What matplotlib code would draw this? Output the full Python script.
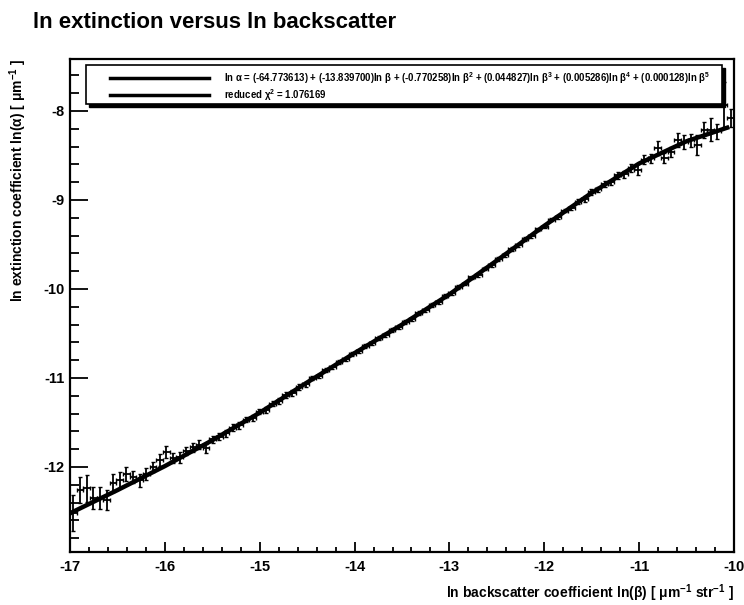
import matplotlib
matplotlib.use('Agg')
import matplotlib.pyplot as plt
from matplotlib.patches import Rectangle
from matplotlib.lines import Line2D
from matplotlib.ticker import MultipleLocator

plt.rcParams['font.family'] = ['Liberation Sans', 'DejaVu Sans']
plt.rcParams['axes.unicode_minus'] = False
plt.rcParams['mathtext.fontset'] = 'custom'
plt.rcParams['mathtext.rm'] = 'Liberation Sans'
plt.rcParams['mathtext.it'] = 'Liberation Sans:italic'
plt.rcParams['mathtext.bf'] = 'Liberation Sans:bold'
plt.rcParams['mathtext.default'] = 'regular'

# binned data: ln(beta) bin centres, ln(alpha) means and errors
ln_beta = [
    -16.965, -16.895, -16.825, -16.755, -16.685, -16.615, -16.545, -16.475, -16.405, -16.335,
    -16.265, -16.195, -16.125, -16.055, -15.985, -15.915, -15.845, -15.775, -15.705, -15.635,
    -15.565, -15.495, -15.425, -15.355, -15.285, -15.215, -15.145, -15.075, -15.005, -14.935,
    -14.865, -14.795, -14.725, -14.655, -14.585, -14.515, -14.445, -14.375, -14.305, -14.235,
    -14.165, -14.095, -14.025, -13.955, -13.885, -13.815, -13.745, -13.675, -13.605, -13.535,
    -13.465, -13.395, -13.325, -13.255, -13.185, -13.115, -13.045, -12.975, -12.905, -12.835,
    -12.765, -12.695, -12.625, -12.555, -12.485, -12.415, -12.345, -12.275, -12.205, -12.135,
    -12.065, -11.995, -11.925, -11.855, -11.785, -11.715, -11.645, -11.575, -11.505, -11.435,
    -11.365, -11.295, -11.225, -11.155, -11.085, -11.015, -10.945, -10.875, -10.805, -10.735,
    -10.665, -10.595, -10.525, -10.455, -10.385, -10.315, -10.245, -10.175, -10.105, -10.035,
]

ln_alpha = [
    -12.52, -12.26, -12.24, -12.35, -12.35, -12.37, -12.18, -12.15, -12.08, -12.11,
    -12.15, -12.08, -12.00, -11.92, -11.83, -11.90, -11.89, -11.82, -11.78, -11.75,
    -11.79, -11.69, -11.66, -11.62, -11.56, -11.53, -11.47, -11.45, -11.38, -11.36,
    -11.29, -11.26, -11.19, -11.17, -11.10, -11.07, -11.00, -10.98, -10.91, -10.88,
    -10.82, -10.79, -10.73, -10.70, -10.64, -10.61, -10.55, -10.52, -10.46, -10.43,
    -10.37, -10.34, -10.27, -10.24, -10.18, -10.15, -10.08, -10.05, -9.98, -9.94,
    -9.87, -9.84, -9.77, -9.73, -9.66, -9.62, -9.55, -9.51, -9.44, -9.41,
    -9.33, -9.30, -9.22, -9.19, -9.12, -9.09, -9.02, -8.99, -8.91, -8.88,
    -8.82, -8.80, -8.72, -8.71, -8.64, -8.66, -8.55, -8.53, -8.42, -8.53,
    -8.46, -8.33, -8.35, -8.33, -8.38, -8.21, -8.21, -8.23, -7.93, -8.08,
]

alpha_err = [
    0.20, 0.15, 0.15, 0.12, 0.12, 0.11, 0.10, 0.09, 0.08, 0.07,
    0.07, 0.07, 0.06, 0.07, 0.07, 0.06, 0.06, 0.05, 0.05, 0.05,
    0.05, 0.04, 0.04, 0.04, 0.04, 0.04, 0.03, 0.03, 0.03, 0.03,
    0.03, 0.03, 0.03, 0.03, 0.03, 0.03, 0.02, 0.02, 0.02, 0.02,
    0.02, 0.02, 0.02, 0.02, 0.02, 0.02, 0.02, 0.02, 0.02, 0.02,
    0.02, 0.02, 0.02, 0.02, 0.02, 0.02, 0.02, 0.02, 0.02, 0.02,
    0.02, 0.02, 0.02, 0.02, 0.02, 0.02, 0.02, 0.02, 0.02, 0.02,
    0.02, 0.02, 0.02, 0.02, 0.02, 0.02, 0.03, 0.03, 0.03, 0.03,
    0.03, 0.03, 0.04, 0.04, 0.04, 0.06, 0.05, 0.05, 0.08, 0.06,
    0.06, 0.08, 0.08, 0.07, 0.11, 0.09, 0.13, 0.08, 0.25, 0.10,
]

# polynomial fit curve
fit_beta = [-17.0, -16.5, -16.0, -15.5, -15.0, -14.5, -14.0, -13.5,
            -13.0, -12.5, -12.0, -11.5, -11.0, -10.5, -10.05]
fit_alpha = [-12.52, -12.26, -11.99, -11.70, -11.39, -11.05, -10.72, -10.40,
             -10.06, -9.68, -9.29, -8.92, -8.59, -8.34, -8.18]

legend_fit = (r'ln $\alpha$ = (-64.773613) + (-13.839700)ln $\beta$ + (-0.770258)ln $\beta^2$'
              r' + (0.044827)ln $\beta^3$ + (0.005286)ln $\beta^4$ + (0.000128)ln $\beta^5$')
legend_chi = r'reduced $\chi^2$ = 1.076169'

fig = plt.figure(figsize=(7.44, 6.05), dpi=100)
ax = fig.add_axes([70 / 744, 1 - 552 / 605, 664 / 744, 493 / 605])

ax.errorbar(
    ln_beta, ln_alpha,
    yerr=alpha_err, xerr=0.035,
    fmt='none', ecolor='black', elinewidth=1.3, capsize=1.5, capthick=1.0
)

ax.plot(fit_beta, fit_alpha, color='black', linewidth=3.2, solid_capstyle='butt')

ax.set_xlim(-17, -10)
ax.set_ylim(-12.955, -7.416)

ax.xaxis.set_major_locator(MultipleLocator(1))
ax.xaxis.set_minor_locator(MultipleLocator(0.2))
ax.yaxis.set_major_locator(MultipleLocator(1))
ax.yaxis.set_minor_locator(MultipleLocator(0.2))

ax.tick_params(axis='both', which='both', direction='in', top=False, right=False,
               width=1.3, labelsize=10.5, colors='black')
ax.tick_params(axis='x', which='major', length=7, pad=6)
ax.tick_params(axis='x', which='minor', length=3.5)
ax.tick_params(axis='y', which='major', length=13, pad=4)
ax.tick_params(axis='y', which='minor', length=6.5)

for lab in ax.get_xticklabels() + ax.get_yticklabels():
    lab.set_fontweight('bold')

for side in ax.spines.values():
    side.set_linewidth(1.6)

ax.set_xlabel(r'ln backscatter coefficient ln($\beta$) [ $\mu$m$^{-1}$ str$^{-1}$ ]',
              fontsize=10, fontweight='bold', loc='right', labelpad=6)
ax.set_ylabel(r'ln extinction coefficient ln($\alpha$) [ $\mu$m$^{-1}$ ]',
              fontsize=10, fontweight='bold', loc='top', labelpad=10)

fig.text(33 / 744, 1 - 22 / 605, 'ln extinction versus ln backscatter',
         fontsize=16, fontweight='bold', ha='left', va='center')

# legend box with ROOT style shadow
bx0, bx1 = 86 / 744, 722 / 744
by0, by1 = 1 - 104 / 605, 1 - 65 / 605
fig.patches.append(Rectangle((bx0 + 3 / 744, by0 - 3 / 605), bx1 - bx0, by1 - by0,
                             transform=fig.transFigure, facecolor='black',
                             edgecolor='black', zorder=5))
fig.patches.append(Rectangle((bx0, by0), bx1 - bx0, by1 - by0,
                             transform=fig.transFigure, facecolor='white',
                             edgecolor='black', linewidth=1.2, zorder=6))
for yy, txt in [(1 - 78 / 605, legend_fit), (1 - 95 / 605, legend_chi)]:
    fig.lines.append(Line2D([110 / 744, 209 / 744], [yy, yy], transform=fig.transFigure,
                            color='black', linewidth=2.5, zorder=7))
    fig.text(224 / 744, yy, txt, fontsize=6.9, fontweight='bold', ha='left', va='center',
             zorder=7)

fig.savefig('out.png', dpi=100)
